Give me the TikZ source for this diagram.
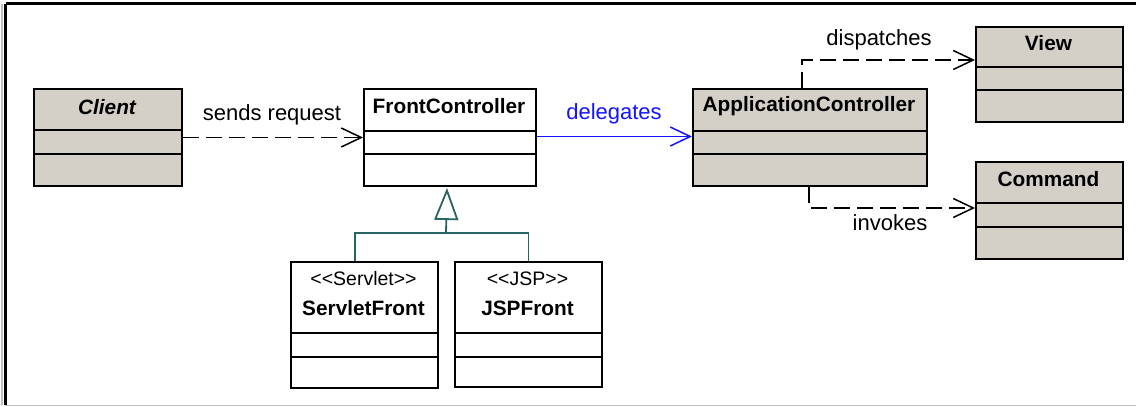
\documentclass[tikz,border=0pt]{standalone}
\usepackage{fontspec}
\setmainfont{Liberation Sans}
\usetikzlibrary{arrows.meta}
\definecolor{boxgray}{HTML}{D4D0C8}
\definecolor{genteal}{RGB}{40,100,100}
\definecolor{delblue}{RGB}{20,20,255}
\tikzset{
  cls/.style={draw=black, line width=2pt, rectangle, inner sep=0pt, anchor=north west, fill=white},
  graycls/.style={cls, fill=boxgray},
  divider/.style={draw=black, line width=2pt},
  nametext/.style={font=\fontsize{20.8pt}{24pt}\selectfont\bfseries, inner sep=0pt},
  stereotext/.style={font=\fontsize{19.5pt}{23pt}\selectfont, inner sep=0pt},
  labeltext/.style={font=\fontsize{22pt}{26pt}\selectfont, inner sep=0pt},
  deparrow/.style={draw=black, line width=1.5pt, dash pattern=on 16pt off 7pt, -{Straight Barb[length=20pt, width=19pt, line width=1.5pt]}},
  delarrow/.style={draw=delblue, line width=1.5pt, -{Straight Barb[length=20pt, width=19pt, line width=1.5pt]}},
  genline/.style={draw=genteal, line width=1.8pt},
  gentip/.style={genline, -{Triangle[open, length=32pt, width=24pt, line width=1.8pt, fill=white]}}
}
\begin{document}
\begin{tikzpicture}[x=1pt, y=-1pt]
\useasboundingbox (0,0) rectangle (1136,407);
\fill[white] (0,0) rectangle (1136,407);
% frame
\draw[line width=1.2pt, black!25] (2,4) -- (2,405);
\draw[line width=2.2pt, black] (5.5,3.5) -- (1136,3.5);
\draw[line width=2.2pt, black] (5.5,3.5) -- (5.5,405);
\draw[line width=1.5pt, black!25] (5,405.5) -- (1136,405.5);

% Client
\node[graycls, minimum width=148pt, minimum height=97pt] (client) at (33,88) {};
\draw[divider] (33,130) -- (181,130);
\draw[divider] (33,154) -- (181,154);
\node[nametext, font=\fontsize{20.8pt}{24pt}\selectfont\bfseries\itshape] (clientname) at (107,107) {Client};

% FrontController
\node[cls, minimum width=172pt, minimum height=97pt] (front) at (363,88) {};
\draw[divider] (363,131) -- (535,131);
\draw[divider] (363,154) -- (535,154);
\node[nametext] (frontname) at (449,106) {FrontController};

% ApplicationController
\node[graycls, minimum width=234pt, minimum height=97pt] (app) at (692,88) {};
\draw[divider] (692,131) -- (926,131);
\draw[divider] (692,154) -- (926,154);
\node[nametext] (appname) at (809,106) {ApplicationController};

% View
\node[graycls, minimum width=147pt, minimum height=95pt] (view) at (975,26) {};
\draw[divider] (975,67) -- (1122,67);
\draw[divider] (975,90) -- (1122,90);
\node[nametext] (viewname) at (1048.5,43) {View};

% Command
\node[graycls, minimum width=147pt, minimum height=97pt] (command) at (975,161) {};
\draw[divider] (975,203) -- (1122,203);
\draw[divider] (975,227) -- (1122,227);
\node[nametext] (commandname) at (1048.5,179) {Command};

% ServletFront
\node[cls, minimum width=147pt, minimum height=126pt] (servlet) at (290,261) {};
\draw[divider] (290,333) -- (437,333);
\draw[divider] (290,357) -- (437,357);
\node[stereotext] (servletst) at (363.5,279) {<{}<Servlet>{}>};
\node[nametext] (servletname) at (363.5,308) {ServletFront};

% JSPFront
\node[cls, minimum width=147pt, minimum height=125pt] (jsp) at (454,261) {};
\draw[divider] (454,333) -- (601,333);
\draw[divider] (454,357) -- (601,357);
\node[stereotext] (jspst) at (527.5,279) {<{}<JSP>{}>};
\node[nametext] (jspname) at (527.5,308) {JSPFront};

% sends request
\draw[deparrow] (client.east) -- (front.west);
\node[labeltext] (sendslbl) at (272,115) {sends request};

% delegates
\draw[delarrow] ([yshift=1pt]front.east) -- ([yshift=1pt]app.west);
\node[labeltext, text=delblue] (dellbl) at (614,114) {delegates};

% dispatches
\draw[deparrow] ([xshift=110pt]app.north west) |- ([yshift=-34pt]view.north west);
\node[labeltext] (displbl) at (879,40) {dispatches};

% invokes
\draw[deparrow] ([xshift=117pt]app.south west) |- ([yshift=-47pt]command.north west);
\node[labeltext] (invlbl) at (890,223) {invokes};

% generalization
\coordinate (gj) at (446,233);
\draw[genline] ([xshift=-9.5pt]servlet.north) |- (gj) -| (jsp.north);
\draw[gentip] (gj) -- ([xshift=-3pt, yshift=-1pt]front.south);
\end{tikzpicture}
\end{document}
